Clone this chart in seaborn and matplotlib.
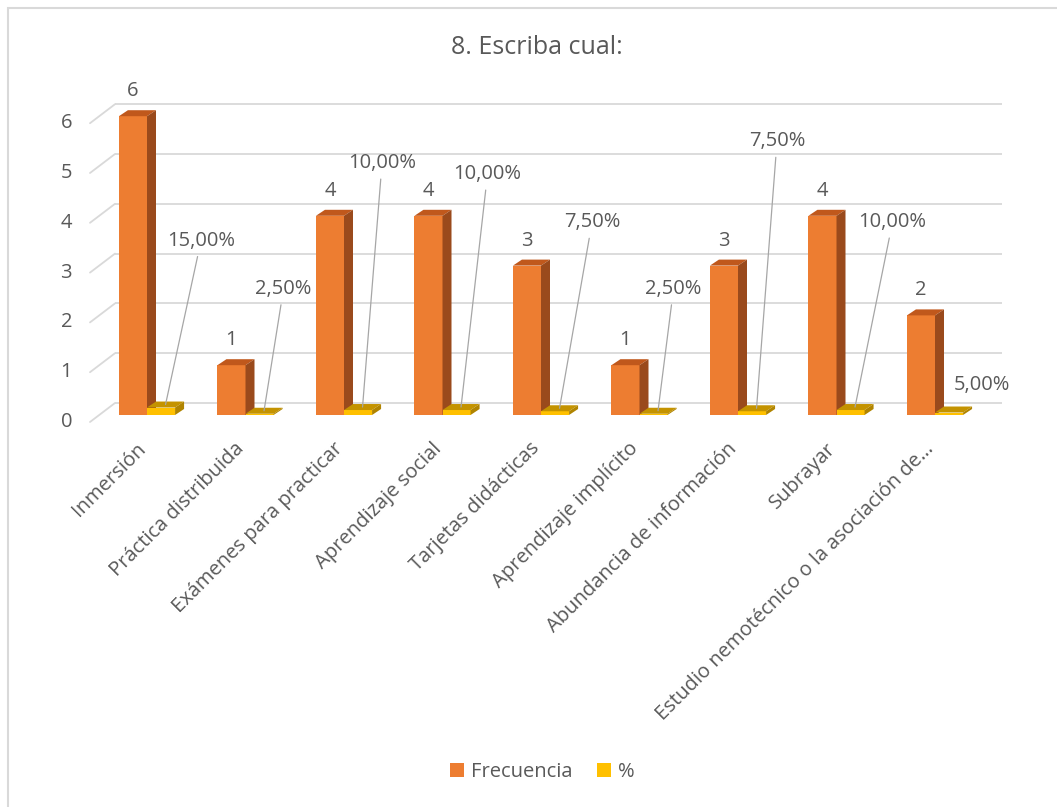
import numpy as np
import pandas as pd
import seaborn as sns
import matplotlib
matplotlib.use("Agg")
import matplotlib.pyplot as plt
from matplotlib.patches import Polygon, Rectangle, Patch
from matplotlib.transforms import ScaledTranslation

# ---------------- data ----------------
categories = [
    "Inmersión",
    "Práctica distribuida",
    "Exámenes para practicar",
    "Aprendizaje social",
    "Tarjetas didácticas",
    "Aprendizaje implícito",
    "Abundancia de información",
    "Subrayar",
    "Estudio nemotécnico o la asociación de…",
]
frecuencia = [6, 1, 4, 4, 3, 1, 3, 4, 2]
porcentaje = [15.0, 2.5, 10.0, 10.0, 7.5, 2.5, 7.5, 10.0, 5.0]
series_names = ["Frecuencia", "%"]
yticks = [0, 1, 2, 3, 4, 5, 6]
title = "8. Escriba cual:"

# ---------------- layout / style (pixels) ----------------
W, H, DPI = 1057, 807, 100
AX_L, AX_R, AX_B, AX_T = 90, 985, 415, 100     # px from left / top
PX_PER_Y = 49.8
PX_PER_X = 98.5
FIRST_CENTER = 147
DEPTH_X, DEPTH_Y = 9, 6                       # bar 3D depth, px
WALL_DX, WALL_DY = 25, 12                      # back wall offset, px
pct_label_offsets = [(40, 167), (24, 125), (24, 247), (31, 236), (37, 189),
                     (20, 125), (25, 270), (42, 188), (33, 28)]
pct_leader = [True, True, True, True, True, True, True, True, False]

ORANGE, ORANGE_TOP, ORANGE_SIDE = "#ED7D31", "#C0581C", "#9A4A1C"
YELLOW, YELLOW_TOP, YELLOW_SIDE = "#FFC000", "#C49300", "#B08400"
TEXT = "#595959"
GRID = "#D9D9D9"

sns.set_theme(style="white")
plt.rcParams["font.family"] = ["Open Sans", "DejaVu Sans"]

df = pd.DataFrame({
    "cat": categories * 2,
    "serie": [series_names[0]] * len(categories) + [series_names[1]] * len(categories),
    "valor": list(frecuencia) + [p / 100 for p in porcentaje],
})

fig = plt.figure(figsize=(W / DPI, H / DPI), dpi=DPI)
ax = fig.add_axes([AX_L / W, 1 - AX_B / H, (AX_R - AX_L) / W, (AX_B - AX_T) / H])
ax.set_facecolor("none")

sns.barplot(data=df, x="cat", y="valor", hue="serie", order=categories,
            hue_order=series_names, palette=[ORANGE, YELLOW], width=0.57,
            gap=0, dodge=True, linewidth=0, edgecolor="none", legend=False,
            errorbar=None, saturation=1, ax=ax, zorder=2)

xmin = -(FIRST_CENTER - AX_L) / PX_PER_X
xmax = (AX_R - FIRST_CENTER) / PX_PER_X
ax.set_xlim(xmin, xmax)
ax.set_ylim(0, (AX_B - AX_T) / PX_PER_Y)
ux = 1 / PX_PER_X
uy = 1 / PX_PER_Y
ddx, ddy = DEPTH_X * ux, DEPTH_Y * uy

for s in ax.spines.values():
    s.set_visible(False)

# back wall gridlines + floor diagonals
axw = AX_R - AX_L
for v in yticks:
    yb = v + WALL_DY * uy
    ax.plot([WALL_DX / axw, (1002 - AX_L) / axw], [yb, yb],
            transform=ax.get_yaxis_transform(), color=GRID, lw=1.3,
            clip_on=False, zorder=0.5, solid_capstyle="butt")
    ax.plot([0, WALL_DX / axw], [v - 7 * uy, yb],
            transform=ax.get_yaxis_transform(), color=GRID, lw=1.3,
            clip_on=False, zorder=0.5)
    ax.text(-18 / axw, v - 7 * uy, str(v), transform=ax.get_yaxis_transform(),
            ha="right", va="center", fontsize=14.5, color=TEXT)
ax.set_yticks([])
ax.set_ylabel("")
ax.set_xlabel("")

# 3D faces
faces = [(ORANGE_TOP, ORANGE_SIDE, 2.2), (YELLOW_TOP, YELLOW_SIDE, 3.2)]
for ci, cont in enumerate(ax.containers):
    top_c, side_c, z = faces[ci]
    for bar in cont:
        bar.set_zorder(z - 0.1)
        x, w, h = bar.get_x(), bar.get_width(), bar.get_height()
        ax.add_patch(Polygon([(x, h), (x + w, h), (x + w + ddx, h + ddy), (x + ddx, h + ddy)],
                             closed=True, facecolor=top_c, edgecolor="none", zorder=z, clip_on=False))
        ax.add_patch(Polygon([(x + w, 0), (x + w + ddx, ddy), (x + w + ddx, h + ddy), (x + w, h)],
                             closed=True, facecolor=side_c, edgecolor="none", zorder=z, clip_on=False))

# value labels
for bar, v in zip(ax.containers[0], frecuencia):
    ax.annotate(str(v), (bar.get_x() + bar.get_width() / 2, bar.get_height()),
                xytext=(0, 25), textcoords="offset pixels", ha="center", va="center",
                fontsize=14.5, color=TEXT, zorder=5)

for bar, p, off, lead in zip(ax.containers[1], porcentaje, pct_label_offsets, pct_leader):
    cx = bar.get_x() + bar.get_width() / 2
    h = bar.get_height()
    label = f"{p:.2f}%".replace(".", ",")
    if lead:
        ax.annotate(label, (cx + ddx / 2, h + ddy / 2),
                    xytext=(off[0] - DEPTH_X / 2, off[1] - DEPTH_Y / 2), textcoords="offset pixels",
                    ha="center", va="center", fontsize=14.5, color=TEXT, zorder=5,
                    arrowprops=dict(arrowstyle="-", color="#A6A6A6", lw=0.9,
                                    shrinkA=2, shrinkB=0), annotation_clip=False)
    else:
        ax.annotate(label, (cx, h), xytext=off, textcoords="offset pixels",
                    ha="center", va="center", fontsize=14.5, color=TEXT, zorder=5,
                    annotation_clip=False)

# category labels
ax.set_xticks(range(len(categories)))
ax.set_xticklabels(categories, rotation=45, ha="right", rotation_mode="anchor",
                   fontsize=14.5, color=TEXT)
ax.tick_params(axis="x", length=0, pad=17)
shift = ScaledTranslation(-11 / DPI, 0, fig.dpi_scale_trans)
for lbl in ax.get_xticklabels():
    lbl.set_transform(lbl.get_transform() + shift)

# title
fig.text(537 / W, 1 - 48 / H, title, ha="center", va="center", fontsize=18, color=TEXT)

# legend
handles = [Patch(facecolor=ORANGE, edgecolor="none"), Patch(facecolor=YELLOW, edgecolor="none")]
fig.legend(handles, series_names, loc="center", bbox_to_anchor=(542 / W, 1 - 772 / H),
           ncol=2, frameon=False, fontsize=14.5, handlelength=0.7, handleheight=0.7,
           handletextpad=0.35, columnspacing=1.2, labelcolor=TEXT)

# chart border
fig.patches.append(Rectangle((8 / W, -0.1), 1.2, 1 - 8 / H + 0.1, transform=fig.transFigure,
                             fill=False, edgecolor="#D9D9D9", lw=1.5, zorder=0))

fig.savefig("out.png", dpi=DPI, facecolor="white")
